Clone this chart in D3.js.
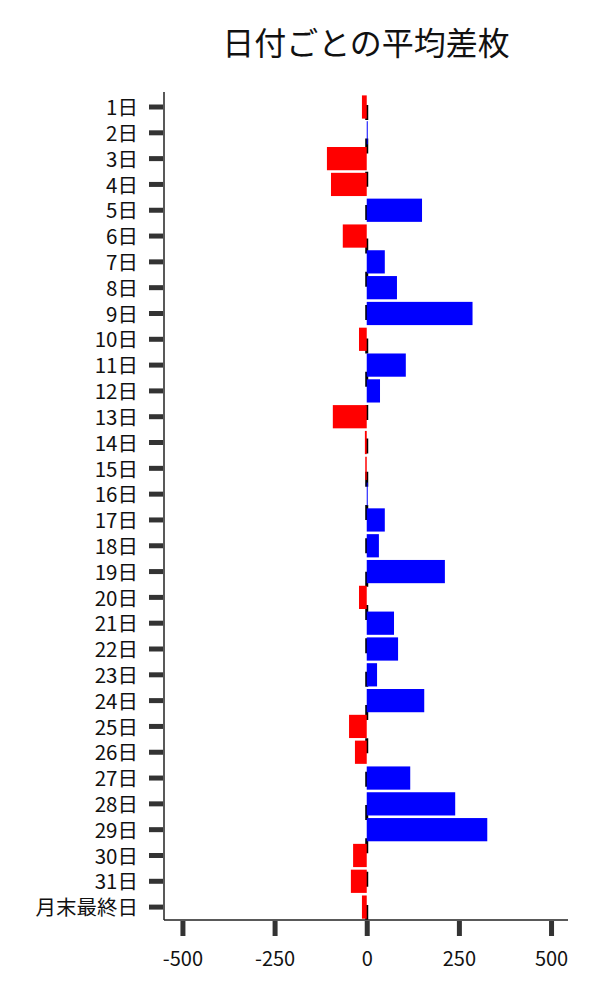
<!DOCTYPE html>
<html><head><meta charset="utf-8">
<script src="https://cdn.jsdelivr.net/npm/d3@7"></script>
<style>body{margin:0;background:#fff}svg{display:block}</style>
</head><body>
<script>
const categories = ["1日","2日","3日","4日","5日","6日","7日","8日","9日","10日","11日","12日","13日","14日","15日","16日","17日","18日","19日","20日","21日","22日","23日","24日","25日","26日","27日","28日","29日","30日","31日","月末最終日"];
const values = [-13, 1, -108, -97, 150, -65, 49, 82, 287, -21, 106, 36, -92, -5, -4, 1, 49, 33, 212, -21, 74, 85, 28, 156, -48, -32, 118, 240, 327, -37, -43, -13];
const xTicks = [-500, -250, 0, 250, 500];
const title = "日付ごとの平均差枚";

(function () {
const W = 600, H = 1000;
const font = "'Noto Sans CJK JP', 'Noto Sans', sans-serif";
const svg = d3.select("body").append("svg").attr("width", W).attr("height", H);

const mL = 164, mR = 568, mT = 92, mB = 920;
const x = d3.scaleLinear().domain([-550, 546]).range([mL, mR]);
const y = d3.scaleBand().domain(categories).range([94.1, mB]).paddingInner(0.1).paddingOuter(0.05);

// dashed zero line
svg.append("line")
  .attr("x1", x(0)).attr("x2", x(0)).attr("y1", mB).attr("y2", mT)
  .attr("stroke", "#000").attr("stroke-width", 3).attr("stroke-dasharray", "15,18.33");

// bars
svg.append("g").selectAll("rect").data(values).join("rect")
  .attr("x", d => x(Math.min(0, d)))
  .attr("width", d => Math.max(1, Math.abs(x(d) - x(0))))
  .attr("y", (d, i) => y(categories[i]))
  .attr("height", y.bandwidth())
  .attr("fill", d => d >= 0 ? "#0000ff" : "#ff0000");

// y axis
const ya = svg.append("g").attr("transform", `translate(${mL},0)`)
  .call(d3.axisLeft(y).tickSize(15).tickPadding(10));
ya.select(".domain").remove();
ya.selectAll(".tick line").attr("stroke", "#333").attr("stroke-width", 5).attr("x2", -1).attr("x1", -15);
ya.selectAll(".tick text").attr("font-family", font).attr("font-size", 20.5).attr("fill", "#111")
  .attr("x", -26).attr("dy", "0.4em");
svg.append("line").attr("x1", mL).attr("x2", mL).attr("y1", mT).attr("y2", mB)
  .attr("stroke", "#222").attr("stroke-width", 1.5);

// x axis
const xa = svg.append("g").attr("transform", `translate(0,${mB})`)
  .call(d3.axisBottom(x).tickValues(xTicks).tickSize(16).tickPadding(16).tickFormat(d => String(d)));
xa.select(".domain").remove();
xa.selectAll(".tick line").attr("stroke", "#333").attr("stroke-width", 5).attr("y1", 1);
xa.selectAll(".tick text").attr("font-family", font).attr("font-size", 20).attr("fill", "#111");
svg.append("line").attr("x1", mL).attr("x2", mR).attr("y1", mB).attr("y2", mB)
  .attr("stroke", "#222").attr("stroke-width", 1.5);

// title
svg.append("text").attr("x", (mL + mR) / 2).attr("y", 55)
  .attr("text-anchor", "middle").attr("font-family", font).attr("font-size", 32).attr("fill", "#111")
  .text(title);
})();
</script>
</body></html>
